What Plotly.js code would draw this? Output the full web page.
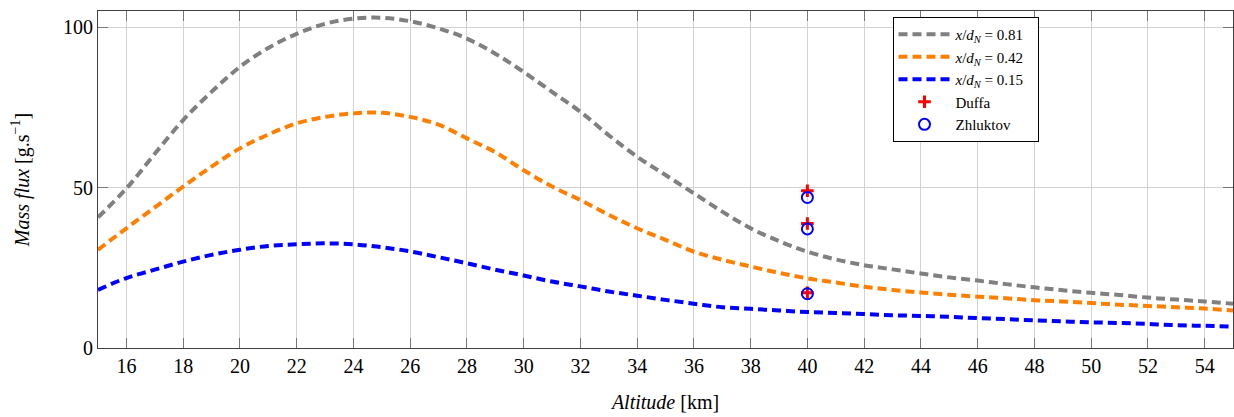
<!DOCTYPE html>
<html>
<head>
<meta charset="utf-8">
<script src="https://cdn.plot.ly/plotly-3.0.1.min.js"></script>
<style>html,body{margin:0;padding:0;background:#fff;}#chart{width:1234px;height:417px;}</style>
</head>
<body>
<div id="chart"></div>
<script>
const altitude = [15,16,17,18,19,20,21,22,23,24,25,26,27,28,29,30,31,32,33,34,35,36,37,38,39,40,41,42,43,44,45,46,47,48,49,50,51,52,53,54,55];
const flux081 = [40.7,49.7,60.5,71.0,79.8,87.6,93.5,97.9,101,102.6,102.9,101.8,99.6,96.4,91.7,86,79.8,73.6,66.3,59.6,53.9,48.2,42.5,37.3,33.3,30,27.6,25.8,24.5,23.2,22,21,19.9,18.9,18,17.2,16.5,15.7,15.1,14.5,13.8];
const flux042 = [30.6,37.3,43.8,50.3,56.5,62.2,66.5,70,72,73.1,73.3,72,69.6,65.3,61,55.4,50.3,46.1,41.5,37.3,33.7,30,27.5,25.4,23.4,21.7,20.4,19.1,18.1,17.3,16.6,16,15.5,14.9,14.5,14,13.5,13.1,12.7,12.3,11.7];
const flux015 = [18.1,21.8,24.4,26.9,29,30.6,31.8,32.3,32.6,32.3,31.4,30.1,28.3,26.4,24.4,22.6,20.7,19.2,17.6,16.3,15,13.8,12.7,12.2,11.7,11.2,10.9,10.6,10.2,10,9.7,9.3,9,8.6,8.3,8,7.8,7.5,7.1,6.9,6.7];
const duffaX = [40,40,40];
const duffaY = [49,38.8,17.2];
const zhluktovX = [40,40,40];
const zhluktovY = [46.9,37.1,16.9];
const xTicks = [16,18,20,22,24,26,28,30,32,34,36,38,40,42,44,46,48,50,52,54];
const yTicks = [0,50,100];
const seriesNames = ['<i>x</i>/<i>d</i><sub><i>N</i></sub> = 0.81', '<i>x</i>/<i>d</i><sub><i>N</i></sub> = 0.42', '<i>x</i>/<i>d</i><sub><i>N</i></sub> = 0.15', 'Duffa', 'Zhluktov'];

const font = "Liberation Serif, Times New Roman, serif";
const dash = "9px,5px";
const lineW = 4;

const traces = [
  {x: altitude, y: flux081, mode: 'lines', type: 'scatter', line: {color: '#808080', width: lineW, dash: dash, shape: 'spline'},
   name: seriesNames[0] + '\u00a0\u00a0'},
  {x: altitude, y: flux042, mode: 'lines', type: 'scatter', line: {color: '#ff8000', width: lineW, dash: dash, shape: 'spline'},
   name: seriesNames[1] + '\u00a0\u00a0'},
  {x: altitude, y: flux015, mode: 'lines', type: 'scatter', line: {color: '#0000ff', width: lineW, dash: dash, shape: 'spline'},
   name: seriesNames[2] + '\u00a0\u00a0'},
  {x: duffaX, y: duffaY, mode: 'markers', type: 'scatter', name: seriesNames[3],
   marker: {symbol: 'cross-thin-open', color: '#ff0000', size: 9, line: {width: 3, color: '#ff0000'}}},
  {x: zhluktovX, y: zhluktovY, mode: 'markers', type: 'scatter', name: seriesNames[4],
   marker: {symbol: 'circle-open', color: '#0000ff', size: 11, line: {width: 2, color: '#0000ff'}}}
];

const axisCommon = {
  showgrid: true, gridcolor: '#d3d3d3', gridwidth: 1,
  showline: true, linecolor: '#404040', linewidth: 1, mirror: 'allticks',
  ticks: 'inside', ticklen: 10, tickcolor: '#777', tickwidth: 1,
  zeroline: false, tickfont: {family: font, size: 20, color: '#000'}
};

const layout = {
  width: 1234, height: 417,
  margin: {l: 98, r: 1, t: 11, b: 69},
  paper_bgcolor: '#fff', plot_bgcolor: '#fff',
  font: {family: font, color: '#000'},
  showlegend: true,
  xaxis: Object.assign({}, axisCommon, {
    range: [15, 55], tickvals: xTicks, ticktext: xTicks.map(String),
    title: {text: '<i>Altitude</i> [km]', font: {family: font, size: 20, color: '#000'}, standoff: 18}
  }),
  yaxis: Object.assign({}, axisCommon, {
    range: [0, 105], tickvals: yTicks, ticktext: yTicks.map(String),
    title: {text: '<i>Mass flux</i> [g.s<sup>−1</sup>]', font: {family: font, size: 20, color: '#000'}, standoff: 28}
  }),
  legend: {
    x: 0.7, y: 0.982, xanchor: 'left', yanchor: 'top',
    bgcolor: '#fff', bordercolor: '#000', borderwidth: 1,
    itemwidth: 52,
    font: {family: font, size: 15, color: '#000'}
  }
};

Plotly.newPlot('chart', traces, layout, {displayModeBar: false, staticPlot: true});
</script>
</body>
</html>
